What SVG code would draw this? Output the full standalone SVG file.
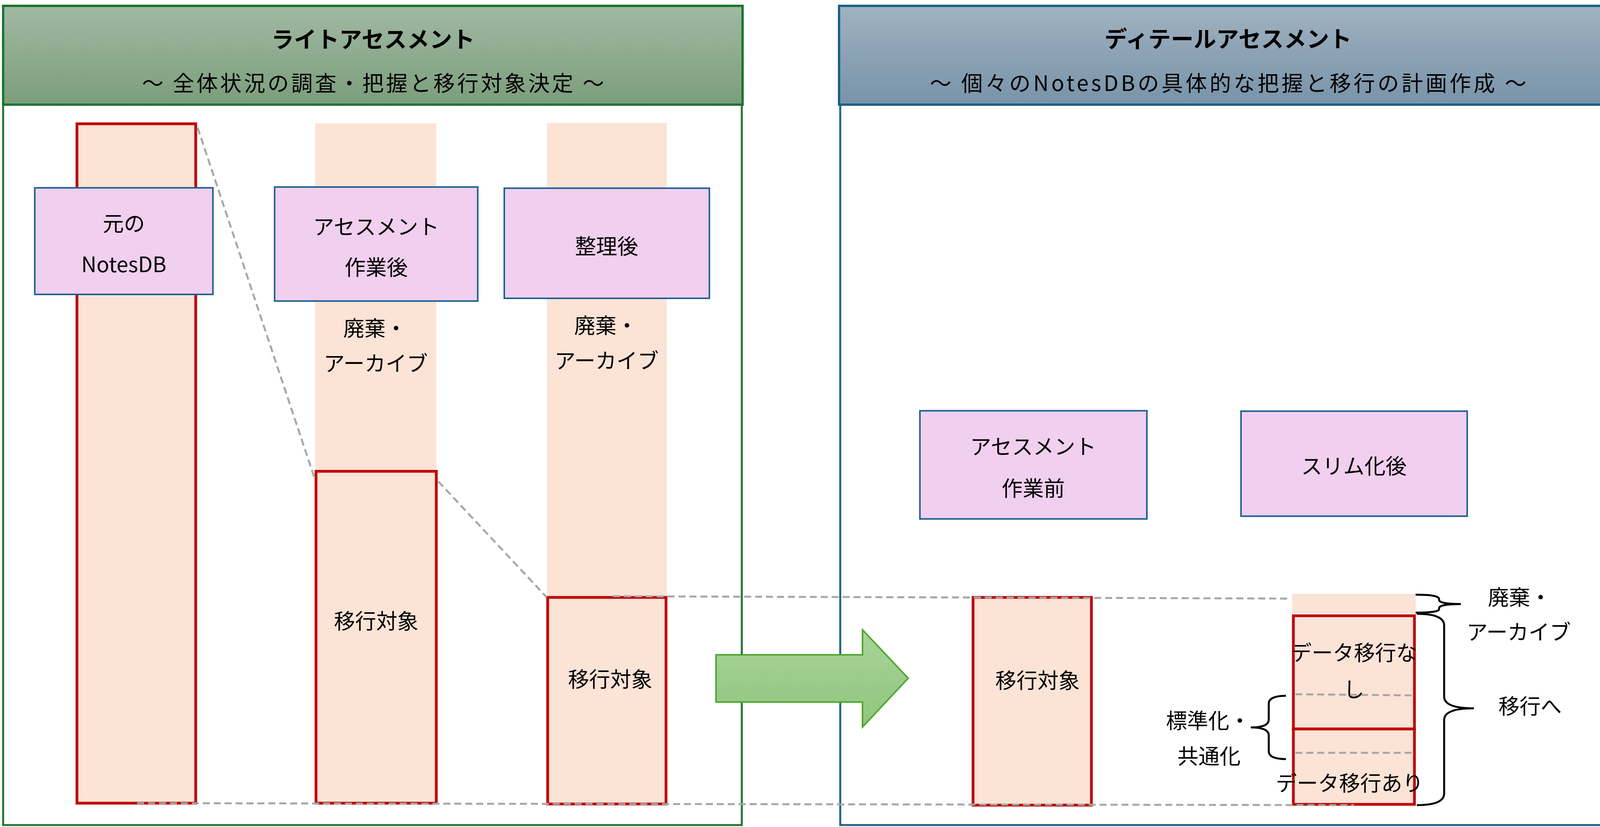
<svg xmlns="http://www.w3.org/2000/svg" width="4149" height="2118" viewBox="0 0 4149 2118">
<defs>
<linearGradient id="gGreenHead" x1="0" y1="0" x2="0" y2="1">
<stop offset="0" stop-color="#a1b9a2"/>
<stop offset="1" stop-color="#7b9e7c"/>
</linearGradient>
<linearGradient id="gBlueHead" x1="0" y1="0" x2="0" y2="1">
<stop offset="0" stop-color="#a0b2c1"/>
<stop offset="1" stop-color="#7893a8"/>
</linearGradient>
<linearGradient id="gArrow" x1="0" y1="0" x2="0" y2="1">
<stop offset="0" stop-color="#a9d39a"/>
<stop offset="1" stop-color="#8ec67c"/>
</linearGradient>
<style>
text{font-family:"Noto Sans CJK JP","Noto Sans CJK SC",sans-serif;fill:#000;text-anchor:middle;dominant-baseline:central;}
.t{font-size:54px;}
.title{font-size:58px;font-weight:bold;}
.sub{font-size:55px;}
.peach{fill:#fbe3d6;stroke:none;}
.bar{fill:#fbe3d6;stroke:#c00000;stroke-width:7;}
.node{fill:#f1cfee;stroke:#1f6391;stroke-width:4;}
.dash{fill:none;stroke:#a6a6a6;stroke-width:5;stroke-dasharray:18 10;}
.brace{fill:none;stroke:#000;stroke-width:5;}
</style>
</defs>
<rect width="4149" height="2118" fill="#fff"/>

<g id="panel-light">
<rect x="8" y="268" width="1891" height="1845" fill="#fff" stroke="#1f7430" stroke-width="5"/>
<rect x="8" y="15" width="1893" height="253" fill="url(#gGreenHead)" stroke="#1f7430" stroke-width="6"/>
<text class="title" x="955" y="97">ライトアセスメント</text>
<text class="sub" x="955" y="209" textLength="1183">～ 全体状況の調査・把握と移行対象決定 ～</text>
</g>

<g id="panel-detail">
<rect x="2151" y="268" width="1991" height="1845" fill="#fff" stroke="#1a6086" stroke-width="5"/>
<rect x="2148" y="15" width="1994" height="253" fill="url(#gBlueHead)" stroke="#1a6086" stroke-width="6"/>
<text class="title" x="3144" y="96">ディテールアセスメント</text>
<text class="sub" x="3144" y="209" textLength="1527">～ 個々のNotesDBの具体的な把握と移行の計画作成 ～</text>
</g>

<g id="bar-original">
<rect class="bar" x="197" y="317" width="304" height="1740"/>
</g>

<g id="bar-after-assessment">
<rect class="peach" x="807" y="316" width="310" height="895"/>
<rect class="bar" x="809" y="1207" width="308" height="850"/>
<text class="t" x="960" y="837">廃棄・</text>
<text class="t" x="962" y="927">アーカイブ</text>
<text class="t" x="963" y="1587">移行対象</text>
</g>

<g id="bar-organized">
<rect class="peach" x="1400" y="315" width="307" height="1215"/>
<rect class="bar" x="1402" y="1530" width="303" height="529"/>
<text class="t" x="1551" y="830">廃棄・</text>
<text class="t" x="1553" y="920">アーカイブ</text>
<text class="t" x="1562" y="1736">移行対象</text>
</g>

<g id="bar-before-detail">
<rect class="bar" x="2491" y="1530" width="303" height="532"/>
<text class="t" x="2656" y="1739">移行対象</text>
</g>

<g id="bar-slim">
<rect class="peach" x="3308" y="1521" width="316" height="50"/>
<rect class="bar" x="3311" y="1577" width="310" height="290"/>
<rect class="bar" x="3311" y="1867" width="310" height="193"/>
<text class="t" x="3466" y="1668">データ移行な</text>
<text class="t" x="3466" y="1762">し</text>
<text class="t" x="3455" y="2002">データ移行あり</text>
</g>

<g id="connectors">
<line class="dash" x1="506" y1="327" x2="806" y2="1227"/>
<line class="dash" x1="1122" y1="1233" x2="1399" y2="1529"/>
<line class="dash" x1="1569" y1="1527" x2="3300" y2="1533"/>
<line class="dash" x1="351" y1="2057" x2="3466" y2="2062"/>
<line class="dash" x1="3316" y1="1778" x2="3624" y2="1781"/>
<line class="dash" x1="3316" y1="1928" x2="3624" y2="1928"/>
</g>

<g id="node-original">
<rect class="node" x="89" y="481" width="456" height="273"/>
<text class="t" x="317" y="569">元の</text>
<text class="t" x="317" y="673">NotesDB</text>
</g>

<g id="node-after-assessment">
<rect class="node" x="703" y="479" width="520" height="292"/>
<text class="t" x="963" y="577">アセスメント</text>
<text class="t" x="963" y="681">作業後</text>
</g>

<g id="node-organized">
<rect class="node" x="1291" y="482" width="525" height="282"/>
<text class="t" x="1553" y="627">整理後</text>
</g>

<g id="node-before-detail">
<rect class="node" x="2355" y="1052" width="581" height="277"/>
<text class="t" x="2645" y="1140">アセスメント</text>
<text class="t" x="2645" y="1247">作業前</text>
</g>

<g id="node-slim">
<rect class="node" x="3177" y="1053" width="579" height="269"/>
<text class="t" x="3466" y="1190">スリム化後</text>
</g>

<g id="arrow">
<polygon points="1833,1677 2208,1677 2208,1613 2325,1737 2208,1862 2208,1798 1833,1798" fill="url(#gArrow)" stroke="#4ea72e" stroke-width="4"/>
</g>

<g id="braces">
<path class="brace" d="M3624,1523 Q3684,1523 3684,1534 L3684,1536 Q3684,1547 3740,1547 Q3684,1547 3684,1558 L3684,1560 Q3684,1569 3624,1569"/>
<path class="brace" d="M3627,1572 Q3697,1572 3697,1602 L3697,1784 Q3697,1814 3773,1814 Q3697,1814 3697,1844 L3697,2032 Q3697,2062 3627,2062"/>
<path class="brace" d="M3292,1782 Q3248,1782 3248,1802 L3248,1843 Q3248,1863 3202,1863 Q3248,1863 3248,1883 L3248,1924 Q3248,1944 3292,1944"/>
<text class="t" x="3890" y="1526">廃棄・</text>
<text class="t" x="3888" y="1615">アーカイブ</text>
<text class="t" x="3917" y="1805">移行へ</text>
<text class="t" x="3093" y="1842">標準化・</text>
<text class="t" x="3095" y="1933">共通化</text>
</g>
</svg>
